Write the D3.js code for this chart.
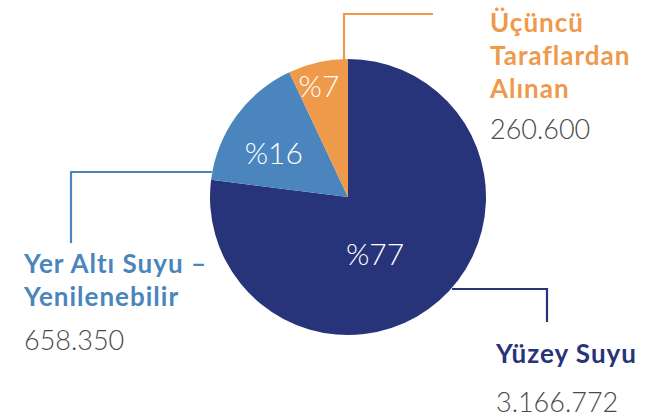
<!DOCTYPE html>
<html>
<head>
<meta charset="utf-8">
<script src="https://d3js.org/d3.v7.min.js"></script>
<style>
  body { margin: 0; background: #fff; }
  text { font-family: Lato, "Open Sans", sans-serif; }
</style>
</head>
<body>
<div id="chart"></div>
<script>
// sources, clockwise from 12 o'clock
const names = [["Yüzey Suyu"], ["Yer Altı Suyu –", "Yenilenebilir"], ["Üçüncü", "Taraflardan", "Alınan"]];
const amounts = ["3.166.772", "658.350", "260.600"];
const shares = [77, 16, 7];
const colors = ["#27347a", "#4a85bd", "#ef994b"];

const width = 667, height = 420;
const cx = 348, cy = 197, radius = 138;

const svg = d3.select("#chart")
  .append("svg")
  .attr("width", width)
  .attr("height", height);

const pie = d3.pie().sort(null).value(d => d);
const arcs = pie(shares);
const arc = d3.arc().innerRadius(0).outerRadius(radius);

const g = svg.append("g").attr("transform", `translate(${cx},${cy})`);

g.selectAll("path")
  .data(arcs)
  .join("path")
  .attr("d", arc)
  .attr("fill", (_, i) => colors[i]);

// percent labels inside slices (radius and angle nudge per slice)
const labelPos = [{ r: 63, da: 0.28 }, { r: 86, da: -0.10 }, { r: 115, da: -0.035 }];
g.selectAll("text.pct")
  .data(arcs)
  .join("text")
  .attr("class", "pct")
  .attr("x", (d, i) => {
    const a = (d.startAngle + d.endAngle) / 2 + labelPos[i].da;
    return Math.sin(a) * labelPos[i].r;
  })
  .attr("y", (d, i) => {
    const a = (d.startAngle + d.endAngle) / 2 + labelPos[i].da;
    return -Math.cos(a) * labelPos[i].r;
  })
  .attr("dy", "0.36em")
  .attr("text-anchor", "middle")
  .attr("font-size", "30px")
  .attr("font-weight", 300)
  .attr("fill", "#fff")
  .text((d, i) => "%" + shares[i]);

// leader lines
const leaders = [
  [[452, 289], [547, 289], [547, 322]],
  [[212, 172], [71, 172], [71, 243]],
  [[344, 60], [344, 14], [433, 14]]
];
svg.selectAll("path.leader")
  .data(leaders)
  .join("path")
  .attr("class", "leader")
  .attr("d", d => d3.line()(d))
  .attr("fill", "none")
  .attr("stroke", (_, i) => colors[i])
  .attr("stroke-width", 2.2);

// callout text blocks
const blocks = [
  { x: 496, y: 363, lh: 33, vy: 412 },
  { x: 24, y: 273, lh: 33, vy: 350 },
  { x: 490, y: 32, lh: 33, vy: 139 }
];
blocks.forEach((b, i) => {
  const t = svg.append("text")
    .attr("x", b.x)
    .attr("y", b.y)
    .attr("font-size", "26px")
    .attr("font-weight", 700)
    .attr("letter-spacing", "1px")
    .attr("fill", colors[i]);
  names[i].forEach((line, j) => {
    t.append("tspan")
      .attr("x", b.x)
      .attr("y", b.y + j * b.lh)
      .text(line);
  });
  svg.append("text")
    .attr("x", b.x)
    .attr("y", b.vy)
    .attr("font-size", "27px")
    .attr("font-weight", 300)
    .attr("fill", "#4a4a4a")
    .text(amounts[i]);
});
</script>
</body>
</html>
